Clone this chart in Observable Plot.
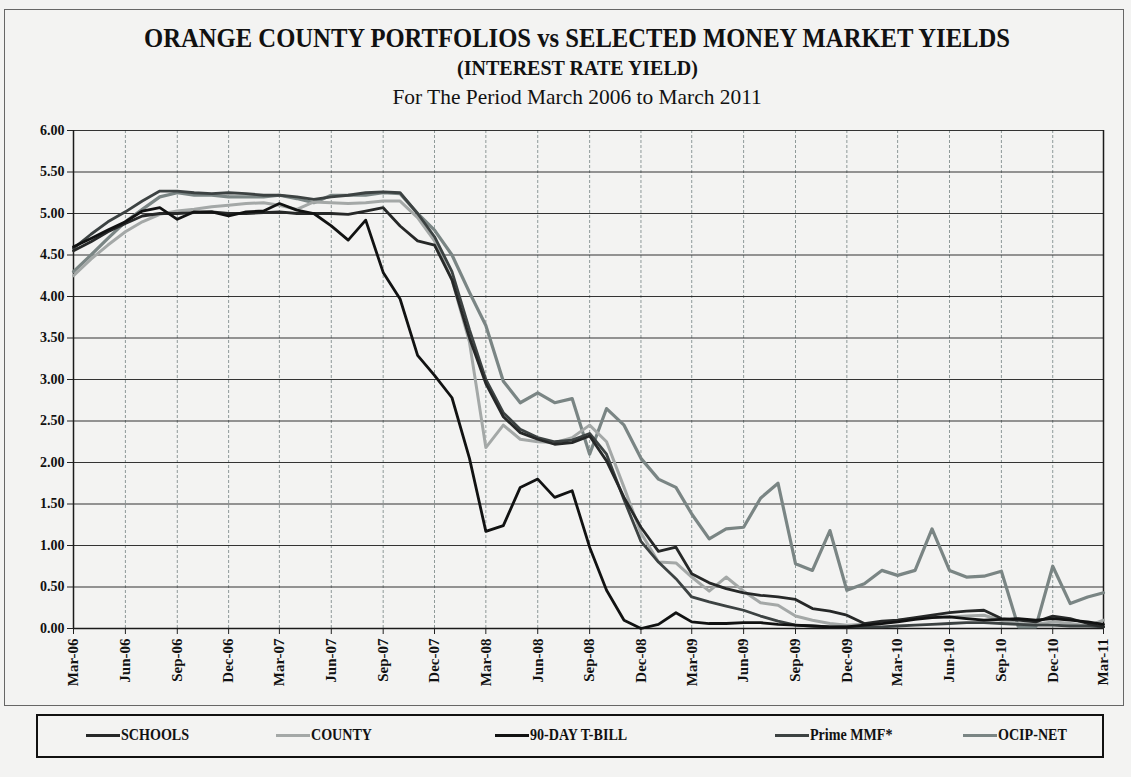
<!DOCTYPE html>
<html><head><meta charset="utf-8">
<script src="https://cdn.jsdelivr.net/npm/d3@7"></script>
<script src="https://cdn.jsdelivr.net/npm/@observablehq/plot@0.6"></script>
<style>
body{margin:0;background:#f3f3f3;}
#wrap{position:relative;width:1131px;height:777px;background:#f3f3f2;font-family:"Liberation Serif","Times New Roman",serif;overflow:hidden;color:#111;}
#frame{position:absolute;left:4px;top:9px;width:1120px;height:697px;border:1.5px solid #666;box-sizing:border-box;}
.t{position:absolute;left:12px;width:1131px;text-align:center;white-space:nowrap;}
.t span{display:inline-block;}
#t1{top:22px;font-weight:bold;font-size:28px;}
#t1 span{transform:scaleX(0.88);}
#t2{top:57px;font-weight:bold;font-size:20px;}
#t2 span{transform:scaleX(1.0);}
#t3{top:85px;font-size:21px;}
#t3 span{transform:scaleX(1.02);}
#chart{position:absolute;left:0;top:115px;}
#chart svg text{font-family:"Liberation Serif",serif;font-weight:bold;}
#legend{position:absolute;left:36px;top:714px;width:1068px;height:44px;border:2px solid #111;box-sizing:border-box;}
.li{position:absolute;top:10px;font-weight:bold;font-size:16px;display:flex;align-items:center;white-space:nowrap;}
.li span.tx{display:inline-block;transform:scaleX(0.88);transform-origin:left center;}
.sw{width:34px;height:3px;margin-right:1px;}
</style>
</head><body>
<div id="wrap">
  <div id="frame"></div>
  <div class="t" id="t1"><span>ORANGE COUNTY PORTFOLIOS vs SELECTED MONEY MARKET YIELDS</span></div>
  <div class="t" id="t2"><span>(INTEREST RATE YIELD)</span></div>
  <div class="t" id="t3"><span>For The Period March 2006 to March 2011</span></div>
  <div id="chart"></div>
  <div id="legend"></div>
</div>
<script>
const months = ["Mar-06","Apr-06","May-06","Jun-06","Jul-06","Aug-06","Sep-06","Oct-06","Nov-06","Dec-06",
"Jan-07","Feb-07","Mar-07","Apr-07","May-07","Jun-07","Jul-07","Aug-07","Sep-07","Oct-07","Nov-07","Dec-07",
"Jan-08","Feb-08","Mar-08","Apr-08","May-08","Jun-08","Jul-08","Aug-08","Sep-08","Oct-08","Nov-08","Dec-08",
"Jan-09","Feb-09","Mar-09","Apr-09","May-09","Jun-09","Jul-09","Aug-09","Sep-09","Oct-09","Nov-09","Dec-09",
"Jan-10","Feb-10","Mar-10","Apr-10","May-10","Jun-10","Jul-10","Aug-10","Sep-10","Oct-10","Nov-10","Dec-10",
"Jan-11","Feb-11","Mar-11"];

const schools = [4.55,4.66,4.78,4.88,4.97,5.00,5.00,5.01,5.02,5.00,
5.00,5.01,5.02,5.00,5.00,5.00,4.99,5.03,5.07,4.85,
4.67,4.62,4.20,3.50,2.95,2.55,2.36,2.28,2.22,2.24,
2.32,2.02,1.58,1.22,0.93,0.98,0.66,0.55,0.48,0.43,
0.40,0.38,0.35,0.24,0.21,0.16,0.06,0.09,0.10,0.13,
0.16,0.19,0.21,0.22,0.12,0.10,0.08,0.15,0.12,0.06,0.02];

const county = [4.25,4.45,4.62,4.78,4.90,4.99,5.03,5.05,5.08,5.10,
5.12,5.13,5.10,5.05,5.14,5.13,5.12,5.13,5.15,5.15,
4.95,4.67,4.20,3.45,2.18,2.45,2.28,2.25,2.24,2.30,
2.45,2.25,1.70,1.15,0.80,0.79,0.62,0.45,0.62,0.45,
0.31,0.28,0.15,0.10,0.06,0.04,0.05,0.07,0.10,0.12,
0.14,0.14,0.15,0.16,0.10,0.06,0.05,0.08,0.06,0.03,0.10];

const tbill = [4.60,4.70,4.80,4.90,5.03,5.07,4.93,5.02,5.02,4.97,
5.02,5.03,5.12,5.04,5.00,4.85,4.68,4.92,4.29,3.97,
3.29,3.05,2.78,2.05,1.17,1.24,1.70,1.80,1.58,1.66,
0.98,0.46,0.10,0.00,0.05,0.19,0.08,0.06,0.06,0.07,
0.07,0.05,0.04,0.03,0.02,0.02,0.04,0.06,0.08,0.11,
0.13,0.14,0.12,0.10,0.11,0.12,0.10,0.12,0.10,0.08,0.05];

const prime = [4.58,4.75,4.90,5.02,5.15,5.27,5.27,5.25,5.24,5.25,
5.24,5.22,5.22,5.20,5.17,5.20,5.22,5.25,5.26,5.25,
5.00,4.72,4.30,3.60,3.00,2.60,2.40,2.30,2.25,2.27,
2.35,2.10,1.55,1.05,0.80,0.60,0.38,0.32,0.27,0.22,
0.15,0.09,0.04,0.03,0.02,0.02,0.02,0.02,0.03,0.04,
0.05,0.06,0.07,0.07,0.06,0.05,0.04,0.04,0.03,0.03,0.02];

const ocip = [4.30,4.50,4.70,4.90,5.05,5.20,5.25,5.22,5.22,5.20,
5.20,5.20,5.22,5.18,5.13,5.22,5.22,5.22,5.25,5.24,
5.00,4.80,4.50,4.05,3.65,2.98,2.72,2.84,2.72,2.77,
2.10,2.65,2.45,2.05,1.80,1.70,1.38,1.08,1.20,1.22,
1.57,1.75,0.78,0.70,1.18,0.46,0.54,0.70,0.64,0.70,
1.20,0.70,0.62,0.63,0.69,0.02,0.02,0.75,0.30,0.38,0.43];

const seriesNames = ["SCHOOLS","COUNTY","90-DAY T-BILL","Prime MMF*","OCIP-NET"];
const seriesValues = [schools, county, tbill, prime, ocip];
const seriesColors = ["#262828","#a4a8a7","#111212","#3c4242","#7a8584"];
const seriesWidths = [2.8, 3, 2.8, 2.8, 3.2];
const drawOrder = [4, 1, 3, 0, 2];
const yTicks = [0,0.5,1,1.5,2,2.5,3,3.5,4,4.5,5,5.5,6];

const parse = d3.utcParse("%b-%y");
const dates = months.map(parse);
const tickDates = dates.filter((d,i)=>i%3===0);

const lineMarks = drawOrder.map(k => {
  const rows = seriesValues[k].map((v,i)=>({date:dates[i], value:v, series:seriesNames[k]}));
  return Plot.line(rows, {x:"date", y:"value", stroke:seriesColors[k], strokeWidth:seriesWidths[k], strokeLinejoin:"round", strokeLinecap:"round"});
});

const chart = Plot.plot({
  width:1131, height:590,
  marginLeft:73, marginRight:28, marginTop:15, marginBottom:77,
  style:{background:"transparent", fontFamily:"'Liberation Serif', serif", fontWeight:"bold", fontSize:"13px", color:"#111"},
  x:{type:"utc", domain:[dates[0], dates[dates.length-1]]},
  y:{domain:[0,6]},
  marks:[
    Plot.gridX(tickDates, {stroke:"#7d8a8a", strokeOpacity:0.85, strokeDasharray:"3,2"}),
    Plot.gridY(yTicks, {stroke:"#1e1e1e", strokeOpacity:0.9, strokeWidth:1.2}),
    Plot.ruleX([dates[0], dates[dates.length-1]], {stroke:"#1a1a1a", strokeWidth:1.5}),
    Plot.ruleY([0], {stroke:"#1a1a1a", strokeWidth:1.5}),
    Plot.axisY(yTicks, {tickFormat:d3.format(".2f"), tickSize:6, tickPadding:3, label:null, stroke:"#222", fontSize:14}),
    Plot.axisX(tickDates, {tickFormat:d3.utcFormat("%b-%y"), tickRotate:-90, tickSize:6, tickPadding:4, label:null, stroke:"#222", fontSize:15}),
    ...lineMarks
  ]
});
document.getElementById("chart").appendChild(chart);

const legendPos = [[48,"SCHOOLS"],[238,"COUNTY"],[457,"90-DAY T-BILL"],[737,"Prime MMF*"],[925,"OCIP-NET"]];
const legend = document.getElementById("legend");
legendPos.forEach(([left], k) => {
  const d = document.createElement("div");
  d.className = "li";
  d.style.left = left + "px";
  d.innerHTML = `<div class="sw" style="background:${seriesColors[k]}"></div><span class="tx">${seriesNames[k]}</span>`;
  legend.appendChild(d);
});
</script>
</body></html>
